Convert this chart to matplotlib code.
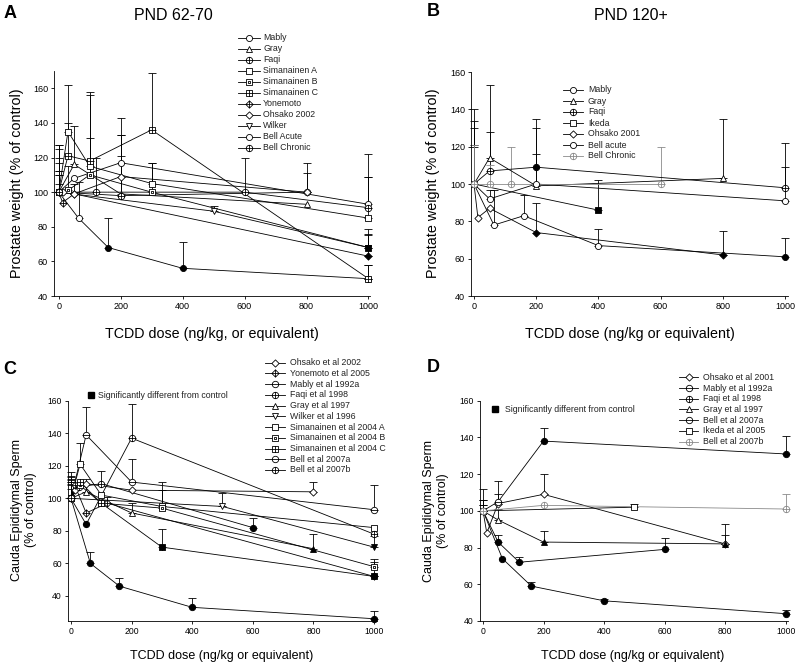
import numpy as np
import matplotlib
matplotlib.use("Agg")
import matplotlib.pyplot as plt
from matplotlib.path import Path

plt.rcParams['font.family'] = ['Liberation Sans', 'DejaVu Sans']

# ------------------------------------------------------------------
# DATA  (dose ng/kg, % of control, upper error, significant flag)
# ------------------------------------------------------------------
# Panel A : prostate weight, PND 62-70
A_MABLY    = ([0, 64, 160, 400, 1000], [100, 85, 68, 56, 50], [27, 21, 17, 15, 8], [0, 0, 1, 1, 1])
A_GRAY     = ([0, 50, 200, 800], [100, 116, 99, 93], [25, 22, 22, 0], [0, 0, 0, 0])
A_FAQI     = ([0, 200, 800], [100, 98, 100], [5, 35, 11], [0, 0, 0])
A_SIM_A    = ([0, 30, 100, 300, 1000], [100, 135, 115, 105, 85], [20, 27, 41, 12, 24], [0, 0, 0, 0, 0])
A_SIM_B    = ([0, 30, 100, 300, 1000], [100, 101, 110, 100, 68], [17, 14, 21, 17, 11], [0, 0, 0, 0, 1])
A_SIM_C    = ([0, 30, 100, 300, 1000], [100, 121, 118, 136, 50], [27, 19, 40, 33, 8], [0, 0, 0, 0, 0])
A_YONEMOTO = ([0, 12.5, 50, 1000], [100, 94, 99, 63], [10, 0, 6, 12], [0, 0, 0, 1])
A_OHSAKO   = ([0, 12.5, 50, 200, 800], [100, 100, 99, 109, 100], [0, 0, 0, 24, 17], [0, 0, 0, 0, 0])
A_WILKER   = ([0, 500, 1000], [100, 89, 68], [12, 3, 8], [0, 0, 1])
A_BELL_AC  = ([0, 50, 200, 1000], [100, 108, 117, 93], [12, 0, 26, 29], [0, 0, 0, 0])
A_BELL_CH  = ([0, 120, 600, 1000], [100, 100, 100, 91], [10, 20, 20, 18], [0, 0, 0, 0])
A_LABELS = ["Mably", "Gray", "Faqi", "Simanainen A", "Simanainen B", "Simanainen C",
            "Yonemoto", "Ohsako 2002", "Wilker", "Bell Acute", "Bell Chronic"]

# Panel B : prostate weight, PND 120+
B_MABLY    = ([0, 64, 160, 400, 1000], [100, 78, 83, 67, 61], [40, 19, 11, 9, 10], [0, 0, 0, 0, 1])
B_GRAY     = ([0, 50, 200, 800], [100, 114, 99, 103], [34, 39, 36, 32], [0, 0, 0, 0])
B_FAQI     = ([0, 50, 200, 1000], [100, 107, 109, 98], [30, 21, 21, 24], [0, 0, 1, 0])
B_IKEDA    = ([0, 400], [100, 86], [21, 16], [0, 1])
B_OHSAKO   = ([0, 12.5, 50, 200, 800], [100, 82, 87, 74, 62], [0, 0, 0, 16, 13], [0, 0, 0, 1, 1])
B_BELL_AC  = ([0, 50, 200, 1000], [100, 92, 100, 91], [20, 5, 16, 18], [0, 0, 0, 0])
B_BELL_CH  = ([0, 50, 120, 600], [100, 100, 100, 100], [21, 10, 20, 20], [0, 0, 0, 0])
B_LABELS = ["Mably", "Gray", "Faqi", "Ikeda", "Ohsako 2001", "Bell acute", "Bell Chronic"]

# Panel C : cauda epididymal sperm, PND 62-70
C_OHSAKO   = ([0, 12.5, 50, 200, 800], [100, 105, 109, 105, 104], [6, 0, 0, 0, 6], [0, 0, 0, 0, 0])
C_YONEMOTO = ([0, 12.5, 50, 120, 1000], [100, 108, 91, 97, 52], [10, 0, 0, 4, 0], [0, 0, 0, 0, 1])
C_MABLY    = ([0, 64, 160, 400, 1000], [100, 60, 46, 33, 26], [13, 7, 5, 6, 5], [0, 1, 1, 1, 1])
C_FAQI     = ([0, 25, 100, 600], [100, 107, 109, 82], [8, 0, 8, 6], [0, 0, 0, 1])
C_GRAY     = ([0, 50, 200, 800], [100, 104, 91, 69], [10, 8, 6, 9], [0, 0, 0, 1])
C_WILKER   = ([0, 500, 1000], [100, 95, 70], [12, 8, 7], [0, 0, 1])
C_SIM_A    = ([0, 30, 100, 300, 1000], [100, 121, 102, 95, 82], [14, 13, 0, 15, 0], [0, 0, 0, 0, 0])
C_SIM_B    = ([0, 30, 100, 300, 1000], [100, 108, 97, 94, 58], [11, 0, 0, 11, 5], [0, 0, 0, 0, 0])
C_SIM_C    = ([0, 30, 100, 300, 1000], [100, 110, 97, 70, 52], [9, 0, 0, 11, 9], [0, 0, 0, 1, 1])
C_BELL_A   = ([0, 50, 200, 1000], [100, 139, 110, 93], [16, 17, 14, 15], [0, 0, 0, 0])
C_BELL_B   = ([0, 50, 200, 1000], [100, 84, 137, 78], [0, 0, 21, 0], [0, 1, 0, 0])
C_LABELS = ["Ohsako et al 2002", "Yonemoto et al 2005", "Mably et al 1992a", "Faqi et al 1998",
            "Gray et al 1997", "Wilker et al 1996", "Simanainen et al 2004 A",
            "Simanainen et al 2004 B", "Simanainen et al 2004 C", "Bell et al 2007a", "Bell et al 2007b"]

# Panel D : cauda epididymal sperm, PND 120+
D_OHSAKO   = ([0, 12.5, 50, 200, 800], [100, 88, 104, 109, 82], [6, 0, 12, 11, 11], [0, 0, 0, 0, 0])
D_MABLY    = ([0, 64, 160, 400, 1000], [100, 74, 59, 51, 44], [12, 0, 2, 1, 2], [0, 1, 1, 1, 1])
D_FAQI     = ([0, 50, 120, 600], [100, 83, 72, 79], [3, 4, 3, 6], [0, 1, 1, 1])
D_GRAY     = ([0, 50, 200, 800], [100, 95, 83, 82], [0, 6, 6, 5], [0, 0, 1, 1])
D_BELL_A   = ([0, 50, 200, 1000], [100, 105, 138, 131], [6, 4, 7, 10], [0, 0, 1, 1])
D_IKEDA    = ([0, 500], [100, 102], [3, 2], [0, 0])
D_BELL_B   = ([0, 200, 1000], [100, 103, 101], [0, 0, 8], [0, 0, 0])
D_LABELS = ["Ohsako et al 2001", "Mably et al 1992a", "Faqi et al 1998", "Gray et al 1997",
            "Bell et al 2007a", "Ikeda et al 2005", "Bell et al 2007b"]

X_TICKS = [0, 200, 400, 600, 800, 1000]
Y_TICKS = [40, 60, 80, 100, 120, 140, 160]

# ------------------------------------------------------------------
# MARKERS
# ------------------------------------------------------------------
MO, LT, CP = Path.MOVETO, Path.LINETO, Path.CLOSEPOLY
_circ = Path.unit_circle()
_hl = Path([(-1, 0), (1, 0)], [MO, LT])
_vl = Path([(0, -1), (0, 1)], [MO, LT])
_sq = Path([(-1, -1), (1, -1), (1, 1), (-1, 1), (-1, -1)], [MO, LT, LT, LT, CP])
_dot = Path([(-.3, -.3), (.3, -.3), (.3, .3), (-.3, .3), (-.3, -.3)], [MO, LT, LT, LT, CP])
_dia = Path([(0, -1), (1, 0), (0, 1), (-1, 0), (0, -1)], [MO, LT, LT, LT, CP])
cp = Path.make_compound_path
MARKERS = {
    'o':   ('o', 4.4),
    'o+':  (cp(_circ, _hl, _vl), 4.6),
    'o-':  (cp(_circ, _hl), 4.6),
    's':   (_sq, 3.8),
    's+':  (cp(_sq, _hl, _vl), 3.8),
    's.':  (cp(_sq, _dot), 3.8),
    'd':   (_dia, 5.2),
    'd+':  (cp(_dia, _hl, _vl), 5.2),
    '^':   ('^', 4.4),
    'v':   ('v', 4.4),
}
GREY = '#8a8a8a'

PANEL_A = [(A_MABLY, 'o', 'k'), (A_GRAY, '^', 'k'), (A_FAQI, 'o+', 'k'), (A_SIM_A, 's', 'k'),
           (A_SIM_B, 's.', 'k'), (A_SIM_C, 's+', 'k'), (A_YONEMOTO, 'd+', 'k'), (A_OHSAKO, 'd', 'k'),
           (A_WILKER, 'v', 'k'), (A_BELL_AC, 'o', 'k'), (A_BELL_CH, 'o+', 'k')]
PANEL_B = [(B_MABLY, 'o', 'k'), (B_GRAY, '^', 'k'), (B_FAQI, 'o+', 'k'), (B_IKEDA, 's', 'k'),
           (B_OHSAKO, 'd', 'k'), (B_BELL_AC, 'o', 'k'), (B_BELL_CH, 'o+', GREY)]
PANEL_C = [(C_OHSAKO, 'd', 'k'), (C_YONEMOTO, 'd+', 'k'), (C_MABLY, 'o-', 'k'), (C_FAQI, 'o+', 'k'),
           (C_GRAY, '^', 'k'), (C_WILKER, 'v', 'k'), (C_SIM_A, 's', 'k'), (C_SIM_B, 's.', 'k'),
           (C_SIM_C, 's+', 'k'), (C_BELL_A, 'o-', 'k'), (C_BELL_B, 'o+', 'k')]
PANEL_D = [(D_OHSAKO, 'd', 'k'), (D_MABLY, 'o-', 'k'), (D_FAQI, 'o+', 'k'), (D_GRAY, '^', 'k'),
           (D_BELL_A, 'o-', 'k'), (D_IKEDA, 's', 'k'), (D_BELL_B, 'o+', GREY)]

W, H = 800, 667
fig = plt.figure(figsize=(8, 6.67), dpi=100)


def px_axes(l, t, r, b):
    return fig.add_axes([l / W, 1 - b / H, (r - l) / W, (b - t) / H])


def draw_series(ax, data, mkey, color):
    x, y, e, s = [np.asarray(v, float) for v in data]
    ax.plot(x, y, '-', color=color, lw=0.6, zorder=2, clip_on=False)
    m = e > 0
    if m.any():
        ax.errorbar(x[m], y[m], yerr=[np.zeros(m.sum()), e[m]], fmt='none', ecolor=color,
                    elinewidth=0.6, capsize=2.6, capthick=0.6, zorder=1.5, clip_on=False)
    mk, ms = MARKERS[mkey]
    sig = s.astype(bool)
    ax.plot(x[~sig], y[~sig], ls='none', marker=mk, ms=ms, mfc='white', mec=color, mew=0.6,
            zorder=3, clip_on=False)
    if sig.any():
        ax.plot(x[sig], y[sig], ls='none', marker=mk, ms=ms, mfc='black', mec='black', mew=0.6,
                zorder=3, clip_on=False)


def style_axes(ax, xlim, ylim, fs):
    ax.set_xlim(*xlim)
    ax.set_ylim(*ylim)
    ax.set_xticks(X_TICKS)
    ax.set_yticks([t for t in Y_TICKS if ylim[0] <= t <= ylim[1]])
    for sp in ['top', 'right']:
        ax.spines[sp].set_visible(False)
    for sp in ['left', 'bottom']:
        ax.spines[sp].set_linewidth(0.6)
    ax.tick_params(direction='out', length=2.5, width=0.6, labelsize=fs, pad=2)


axA = px_axes(54.3, 71.0, 370, 296)
axB = px_axes(471.3, 72, 788, 296)
axC = px_axes(68.3, 400.7, 377, 621)
axD = px_axes(480, 400.7, 788, 621)

for ax, panel in [(axA, PANEL_A), (axB, PANEL_B), (axC, PANEL_C), (axD, PANEL_D)]:
    for data, mk, col in panel:
        draw_series(ax, data, mk, col)

style_axes(axA, (-14.2, 1005), (40, 170), 6.5)
style_axes(axB, (-8.7, 1010), (40, 160), 6.5)
style_axes(axC, (-8.9, 1010), (24.6, 160), 6.2)
style_axes(axD, (-9.9, 1008), (40, 160), 6.2)

# overlay for text / legends in pixel coordinates
ov = fig.add_axes([0, 0, 1, 1])
ov.set_xlim(0, W)
ov.set_ylim(H, 0)
ov.axis('off')


def legend(labels, panel, x0, x1, xt, y0, dy, fs=6.3):
    for i, (lab, (data, mk, col)) in enumerate(zip(labels, panel)):
        yy = y0 + i * dy
        ov.plot([x0, x1], [yy, yy], color=col, lw=0.6)
        m, ms = MARKERS[mk]
        ov.plot([(x0 + x1) / 2], [yy], marker=m, ms=ms, mfc='white', mec=col, mew=0.6)
        ov.text(xt, yy, lab, fontsize=fs, va='center', ha='left', color='#222222')


legend(A_LABELS, PANEL_A, 238, 260, 263, 37.7, 11.0)
legend(B_LABELS, PANEL_B, 563, 583, 588, 90, 11.0)
legend(C_LABELS, PANEL_C, 265, 285, 290, 362.7, 10.73)
legend(D_LABELS, PANEL_D, 679, 698, 703, 377.3, 10.73)

# significance keys
for sx, tx, sy in [(90.7, 98.5, 395), (495, 505, 409)]:
    ov.plot([sx], [sy], marker='s', ms=4.2, color='black', ls='none')
    ov.text(tx, sy, "Significantly different from control", fontsize=6.3, va='center', ha='left',
            color='#222222')

# titles, panel letters, axis labels
ov.text(173, 16, "PND 62-70", fontsize=11.5, ha='center', va='center')
ov.text(631, 16, "PND 120+", fontsize=11.5, ha='center', va='center')
for lx, ly, t in [(4, 13, 'A'), (427, 12, 'B'), (3, 369, 'C'), (427, 368, 'D')]:
    ov.text(lx, ly, t, fontsize=13, fontweight='bold', ha='left', va='center')

ov.text(212, 334, "TCDD dose (ng/kg, or equivalent)", fontsize=10.3, ha='center', va='center')
ov.text(630, 334, "TCDD dose (ng/kg or equivalent)", fontsize=10.3, ha='center', va='center')
ov.text(222, 656, "TCDD dose (ng/kg or equivalent)", fontsize=9.0, ha='center', va='center')
ov.text(633, 656, "TCDD dose (ng/kg or equivalent)", fontsize=9.0, ha='center', va='center')

ov.text(17, 183, "Prostate weight (% of control)", fontsize=10.4, rotation=90, ha='center', va='center')
ov.text(433, 183, "Prostate weight (% of control)", fontsize=10.4, rotation=90, ha='center', va='center')
ov.text(24, 510, "Cauda Epididymal Sperm\n(% of control)", fontsize=9.0, rotation=90,
        ha='center', va='center', multialignment='center', linespacing=1.15)
ov.text(436, 511, "Cauda Epididymal Sperm\n(% of control)", fontsize=9.0, rotation=90,
        ha='center', va='center', multialignment='center', linespacing=1.15)

fig.savefig("out.png", dpi=100)
